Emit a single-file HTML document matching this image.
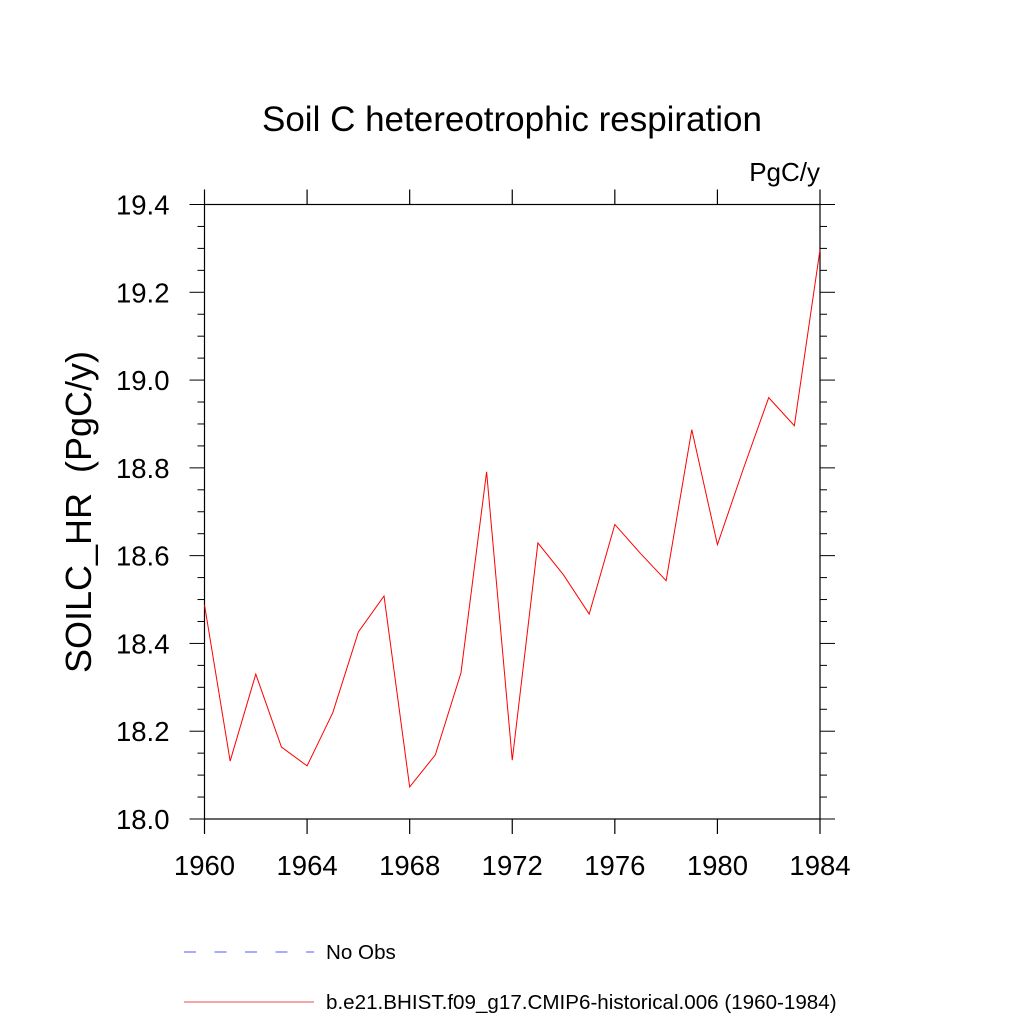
<!DOCTYPE html>
<html><head><meta charset="utf-8"><style>
body{margin:0;background:#fff}
text{font-family:"Liberation Sans",sans-serif;fill:#000}
</style></head><body>
<svg id="chart" width="1024" height="1024" xmlns="http://www.w3.org/2000/svg">
<text x="512" y="131" font-size="35" text-anchor="middle">Soil C hetereotrophic respiration</text>
<text x="820" y="181" font-size="26" text-anchor="end">PgC/y</text>
<text transform="translate(91,512) rotate(-90)" font-size="36" text-anchor="middle" xml:space="preserve">SOILC_HR  (PgC/y)</text>
<g id="axes"></g>
<g id="series"></g>
<g>
<line x1="184" y1="952" x2="314" y2="952" stroke="#7777ff" stroke-width="1.2" stroke-dasharray="12,18.5"/>
<text x="326" y="959" font-size="20.6">No Obs</text>
<line x1="184" y1="1002" x2="314" y2="1002" stroke="#f07070" stroke-width="1.2"/>
<text x="326" y="1009" font-size="20.6">b.e21.BHIST.f09_g17.CMIP6-historical.006 (1960-1984)</text>
</g>
</svg>
<script>
const years=[1960,1961,1962,1963,1964,1965,1966,1967,1968,1969,1970,1971,1972,1973,1974,1975,1976,1977,1978,1979,1980,1981,1982,1983,1984];
const values=[18.488,18.132,18.33,18.164,18.121,18.242,18.426,18.508,18.073,18.146,18.333,18.791,18.134,18.629,18.556,18.467,18.671,18.605,18.543,18.887,18.625,18.796,18.96,18.896,19.297];
const yTicks=["18.0","18.2","18.4","18.6","18.8","19.0","19.2","19.4"];
const xTicks=["1960","1964","1968","1972","1976","1980","1984"];
const L=204.5,R=820,T=204.5,B=819;
const xs=v=>L+(v-1960)/24*(R-L);
const ys=v=>B-(v-18)/1.4*(B-T);
const NS="http://www.w3.org/2000/svg";
const ax=document.getElementById('axes');
function mk(tag,attrs,parent){const e=document.createElementNS(NS,tag);for(const k in attrs)e.setAttribute(k,attrs[k]);parent.appendChild(e);return e;}
const frame=mk('rect',{x:L,y:T,width:R-L,height:B-T,fill:'none',stroke:'#000','stroke-width':1.2},ax);


for(let v=18;v<=19.4001;v+=0.05){
  const major=Math.abs(Math.round(v*5)-v*5)<1e-6;const len=major?15:7;const y=ys(v);
  const t1=mk('line',{x1:L-len,y1:y,x2:L,y2:y,stroke:'#000','stroke-width':1},ax);
  
  
  const t2=mk('line',{x1:R,y1:y,x2:R+len,y2:y,stroke:'#000','stroke-width':1},ax);
  
  
}
yTicks.forEach(s=>{const t=mk('text',{x:L-35,y:ys(+s)+10,'font-size':27.5,'text-anchor':'end'},ax);t.textContent=s;
  
  });
xTicks.forEach(s=>{const x=xs(+s);
  const a=mk('line',{x1:x,y1:B,x2:x,y2:B+15,stroke:'#000','stroke-width':1.2},ax);
  
  
  const b=mk('line',{x1:x,y1:T-15,x2:x,y2:T,stroke:'#000','stroke-width':1.2},ax);
  
  
  const t=mk('text',{x:x,y:B+56,'font-size':27.5,'text-anchor':'middle'},ax);t.textContent=s;
  
  });
const pts=years.map((y,i)=>xs(y).toFixed(2)+','+ys(values[i]).toFixed(2)).join(' ');
const pl=mk('polyline',{points:pts,fill:'none',stroke:'#ff0000','stroke-width':1},document.getElementById('series'));


</script>
</body></html>
